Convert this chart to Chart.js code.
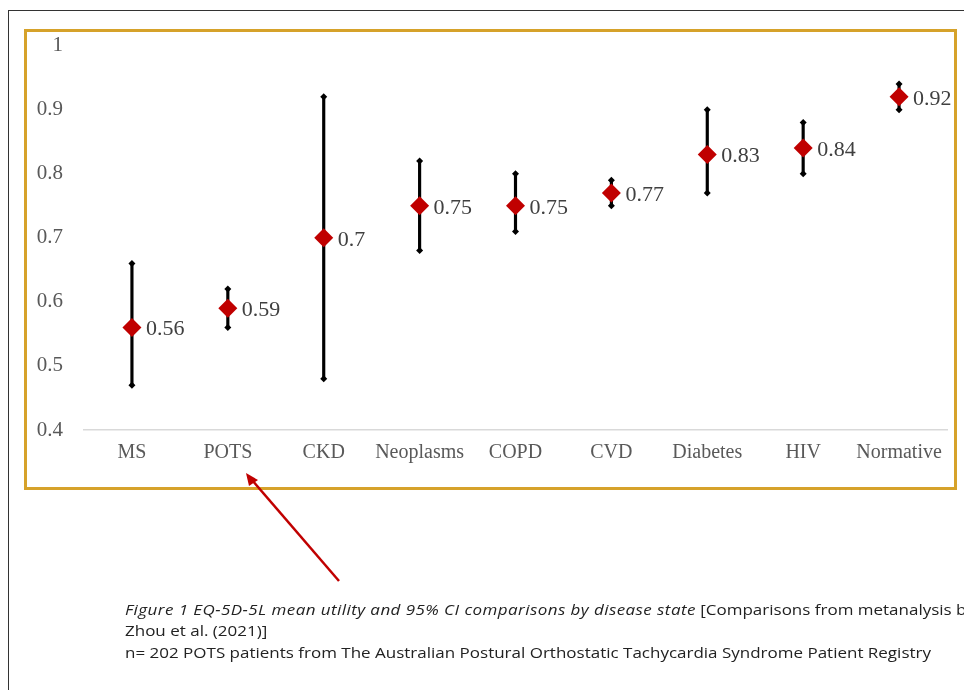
<!DOCTYPE html>
<html>
<head>
<meta charset="utf-8">
<script src="https://cdn.jsdelivr.net/npm/chart.js@4"></script>
<style>
  html, body { margin: 0; padding: 0; background: #fff; }
  body { width: 964px; height: 690px; position: relative; overflow: hidden; }
  #frame { position: absolute; left: 8px; top: 10px; width: 1200px; height: 1000px; border: 1px solid #333; }
  #goldBox { position: absolute; left: 24px; top: 29px; width: 927px; height: 455px; border: 3px solid #D6A22A; }
  #chartWrap { position: absolute; left: 28px; top: 12px; width: 930px; height: 474px; }
  #arrow { position: absolute; left: 0; top: 0; }
  .caption { position: absolute; left: 125px; font-family: "Open Sans", "Noto Sans", sans-serif; color: #222; white-space: nowrap; font-size: 14px; transform-origin: left center; }
  .caption i { letter-spacing: 0.36px; }
</style>
</head>
<body>
<div id="frame"></div>
<div id="goldBox"></div>
<div id="chartWrap"><canvas id="ciChart"></canvas></div>
<svg id="arrow" width="964" height="690">
  <line x1="339" y1="581" x2="252" y2="480" stroke="#C00000" stroke-width="2.5"/>
  <polygon points="246,473 258,480 249,486" fill="#C00000"/>
</svg>
<div class="caption" id="cap1" style="top:600px"><i>Figure 1 EQ-5D-5L mean utility and 95% CI comparisons by disease state</i> [Comparisons from metanalysis by</div>
<div class="caption" id="cap2" style="top:621px">Zhou et al. (2021)]</div>
<div class="caption" id="cap3" style="top:643px">n= 202 POTS patients from The Australian Postural Orthostatic Tachycardia Syndrome Patient Registry</div>

<script>
const categories = ['MS', 'POTS', 'CKD', 'Neoplasms', 'COPD', 'CVD', 'Diabetes', 'HIV', 'Normative'];
const meanUtility = [0.56, 0.59, 0.7, 0.75, 0.75, 0.77, 0.83, 0.84, 0.92];
const ciLower = [0.47, 0.56, 0.48, 0.68, 0.71, 0.75, 0.77, 0.80, 0.90];
const ciUpper = [0.66, 0.62, 0.92, 0.82, 0.80, 0.79, 0.90, 0.88, 0.94];
const yTicks = [0.4, 0.5, 0.6, 0.7, 0.8, 0.9, 1];

// squeeze the caption lines to the width they take in the figure
const cap3 = document.getElementById('cap3');
const squeeze = 806 / cap3.getBoundingClientRect().width;
document.querySelectorAll('.caption').forEach(c => c.style.transform = `scaleX(${squeeze})`);

const serif = '"Liberation Serif", "DejaVu Serif", serif';

const valueLabels = {
  id: 'valueLabels',
  afterDatasetsDraw(chart) {
    const meta = chart.getDatasetMeta(3);
    const ctx = chart.ctx;
    ctx.save();
    ctx.font = '22px ' + serif;
    ctx.fillStyle = '#404040';
    ctx.textAlign = 'left';
    ctx.textBaseline = 'middle';
    meta.data.forEach((pt, i) => {
      ctx.fillText(String(meanUtility[i]), pt.x + 14, pt.y + 2);
    });
    ctx.restore();
  }
};

const ctx = document.getElementById('ciChart').getContext('2d');
new Chart(ctx, {
  type: 'bar',
  data: {
    labels: categories,
    datasets: [
      {
        label: '95% CI',
        data: categories.map((c, i) => [ciLower[i], ciUpper[i]]),
        backgroundColor: '#000',
        barThickness: 2.5,
        order: 3
      },
      {
        type: 'line',
        label: 'lower',
        data: ciLower,
        showLine: false,
        pointStyle: 'rectRot',
        pointRadius: 3.5,
        pointBackgroundColor: '#000',
        pointBorderWidth: 0,
        order: 2
      },
      {
        type: 'line',
        label: 'upper',
        data: ciUpper,
        showLine: false,
        pointStyle: 'rectRot',
        pointRadius: 3.5,
        pointBackgroundColor: '#000',
        pointBorderWidth: 0,
        order: 2
      },
      {
        type: 'line',
        label: 'Mean utility',
        data: meanUtility,
        showLine: false,
        pointStyle: 'rectRot',
        pointRadius: 9.5,
        pointBackgroundColor: '#C00000',
        pointBorderWidth: 0,
        order: 1
      }
    ]
  },
  options: {
    responsive: true,
    maintainAspectRatio: false,
    animation: false,
    layout: { padding: { top: 10, right: 11, left: 0, bottom: 0 } },
    plugins: { legend: { display: false }, tooltip: { enabled: false } },
    scales: {
      x: {
        offset: true,
        grid: { display: false, drawTicks: false },
        border: { display: true, color: '#D9D9D9', width: 1.5 },
        ticks: {
          color: '#595959',
          padding: 11,
          font: { family: serif, size: 20 }
        },
        afterFit(scale) { scale.height = 56; }
      },
      y: {
        min: 0.4,
        max: 1,
        grid: { display: false, drawTicks: false },
        border: { display: false },
        afterBuildTicks(scale) { scale.ticks = yTicks.map(v => ({ value: v })); },
        ticks: {
          color: '#595959',
          padding: 21,
          font: { family: serif, size: 21 },
          callback: v => String(v)
        },
        afterFit(scale) { scale.width = 56; }
      }
    }
  },
  plugins: [valueLabels]
});
</script>
</body>
</html>
